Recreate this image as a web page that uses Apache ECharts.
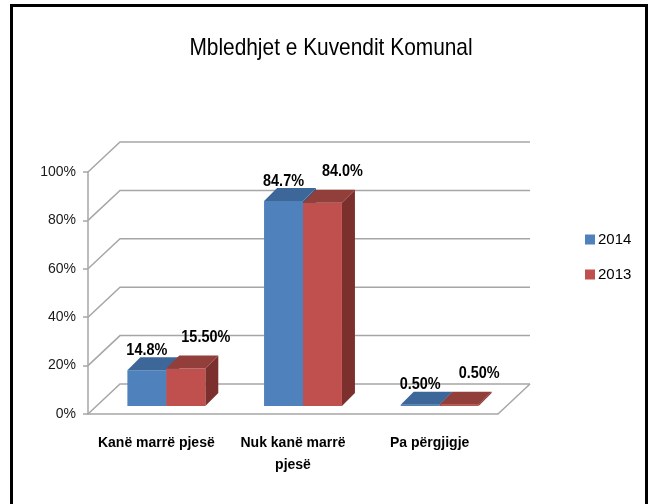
<!DOCTYPE html>
<html>
<head>
<meta charset="utf-8">
<script src="https://cdn.jsdelivr.net/npm/echarts@6/dist/echarts.min.js"></script>
<style>
  html, body { margin: 0; padding: 0; background: #fff; }
  #chart { width: 649px; height: 504px; }
</style>
</head>
<body>
<div id="chart"></div>
<script>
var categories = ['Kanë marrë pjesë', 'Nuk kanë marrë\npjesë', 'Pa përgjigje'];
var years = ['2014', '2013'];
var values2014 = [14.8, 84.7, 0.5];
var values2013 = [15.5, 84.0, 0.5];
var labels2014 = ['14.8%', '84.7%', '0.50%'];
var labels2013 = ['15.50%', '84.0%', '0.50%'];
var yTicks = [0, 20, 40, 60, 80, 100];

var FONT = '"Liberation Sans", Arial, sans-serif';
var depthX = 32, depthY = -30;     // back wall offset
var planeX = 10, planeY = -8;      // where the bars stand
var barDX = 13, barDY = -13;       // bar thickness

function makeBarRender(idx, front, top, side) {
  return function (params, api) {
    var cat = api.value(0);
    var v = api.value(1);
    var base = api.coord([cat, 0]);
    var tip = api.coord([cat, v]);
    var band = api.size([1, 0])[0];
    var bw = band * 0.285;
    var x = base[0] + planeX + (idx === 0 ? -bw : 0);
    var yb = base[1] + planeY;
    var yt = tip[1] + planeY;
    var txt = idx === 0 ? labels2014[params.dataIndex] : labels2013[params.dataIndex];
    var lx = idx === 0 ? x + bw / 2 : x + bw / 2 + 20;
    var ly = idx === 0 ? yt - 20 : yt - 31;
    return {
      type: 'group',
      children: [
        { type: 'polygon', shape: { points: [[x + bw, yt], [x + bw + barDX, yt + barDY], [x + bw + barDX, yb + barDY], [x + bw, yb]] }, style: { fill: side } },
        { type: 'rect', shape: { x: x, y: yt, width: bw, height: yb - yt }, style: { fill: front } },
        { type: 'polygon', shape: { points: [[x, yt], [x + bw, yt], [x + bw + barDX, yt + barDY], [x + barDX, yt + barDY]] }, style: { fill: top } },
        { type: 'text', x: lx, y: ly, scaleX: 0.85, style: { text: txt, font: 'bold 17px ' + FONT, fill: '#000', align: 'center', verticalAlign: 'middle' } }
      ]
    };
  };
}

var chart = echarts.init(document.getElementById('chart'));
chart.setOption({
  animation: false,
  legend: {
    orient: 'vertical',
    left: 585,
    top: 232,
    padding: 0,
    itemWidth: 10,
    itemHeight: 10,
    itemGap: 20,
    icon: 'rect',
    data: years,
    textStyle: { fontFamily: FONT, fontSize: 15, color: '#000', padding: [0, 0, 0, -2] }
  },
  graphic: [{
    type: 'rect',
    shape: { x: 11.5, y: 5.5, width: 635, height: 520 },
    style: { fill: 'none', stroke: '#000', lineWidth: 3 },
    silent: true
  }, {
    type: 'text',
    x: 331,
    y: 48,
    scaleX: 0.87,
    style: { text: 'Mbledhjet e Kuvendit Komunal', font: '24px ' + FONT, fill: '#000', align: 'center', verticalAlign: 'middle' },
    silent: true
  }],
  grid: { left: 88, right: 151, top: 172, bottom: 90 },
  xAxis: {
    type: 'category',
    data: categories,
    axisLine: { lineStyle: { color: '#a6a6a6', width: 1.5 } },
    axisTick: { length: 6, lineStyle: { color: '#a6a6a6', width: 1.5 } },
    axisLabel: { margin: 18, fontFamily: FONT, fontSize: 14, fontWeight: 'bold', color: '#000', lineHeight: 22, interval: 0 }
  },
  yAxis: {
    type: 'value',
    min: 0,
    max: 100,
    interval: 20,
    axisLine: { show: true, lineStyle: { color: '#a6a6a6', width: 1.5 } },
    axisTick: { show: true, length: 5, lineStyle: { color: '#a6a6a6', width: 1.5 } },
    splitLine: { show: false },
    axisLabel: { formatter: '{value}%', margin: 12, fontFamily: FONT, fontSize: 14, color: '#1a1a1a' }
  },
  series: [
    {
      type: 'custom',
      name: 'walls',
      z: 1,
      silent: true,
      data: yTicks.map(function (t) { return [0, t]; }),
      renderItem: function (params, api) {
        var cs = params.coordSys;
        var y = api.coord([0, api.value(1)])[1];
        var x0 = cs.x, x1 = cs.x + cs.width;
        var kids = [{
          type: 'polyline',
          shape: { points: [[x0, y], [x0 + depthX, y + depthY], [x1 + depthX, y + depthY]] },
          style: { stroke: '#a6a6a6', lineWidth: 1.5, fill: 'none' }
        }];
        if (api.value(1) === 0) {
          kids.push({
            type: 'line',
            shape: { x1: x1, y1: y, x2: x1 + depthX, y2: y + depthY },
            style: { stroke: '#a6a6a6', lineWidth: 1.5 }
          });
        }
        return { type: 'group', children: kids };
      }
    },
    {
      type: 'custom',
      name: years[0],
      z: 2,
      itemStyle: { color: '#4f81bd' },
      data: values2014.map(function (v, i) { return [i, v]; }),
      renderItem: makeBarRender(0, '#4f81bd', '#3d6799', '#355a86')
    },
    {
      type: 'custom',
      name: years[1],
      z: 3,
      itemStyle: { color: '#c0504d' },
      data: values2013.map(function (v, i) { return [i, v]; }),
      renderItem: makeBarRender(1, '#c0504d', '#923e3b', '#7b302e')
    }
  ]
});
</script>
</body>
</html>
